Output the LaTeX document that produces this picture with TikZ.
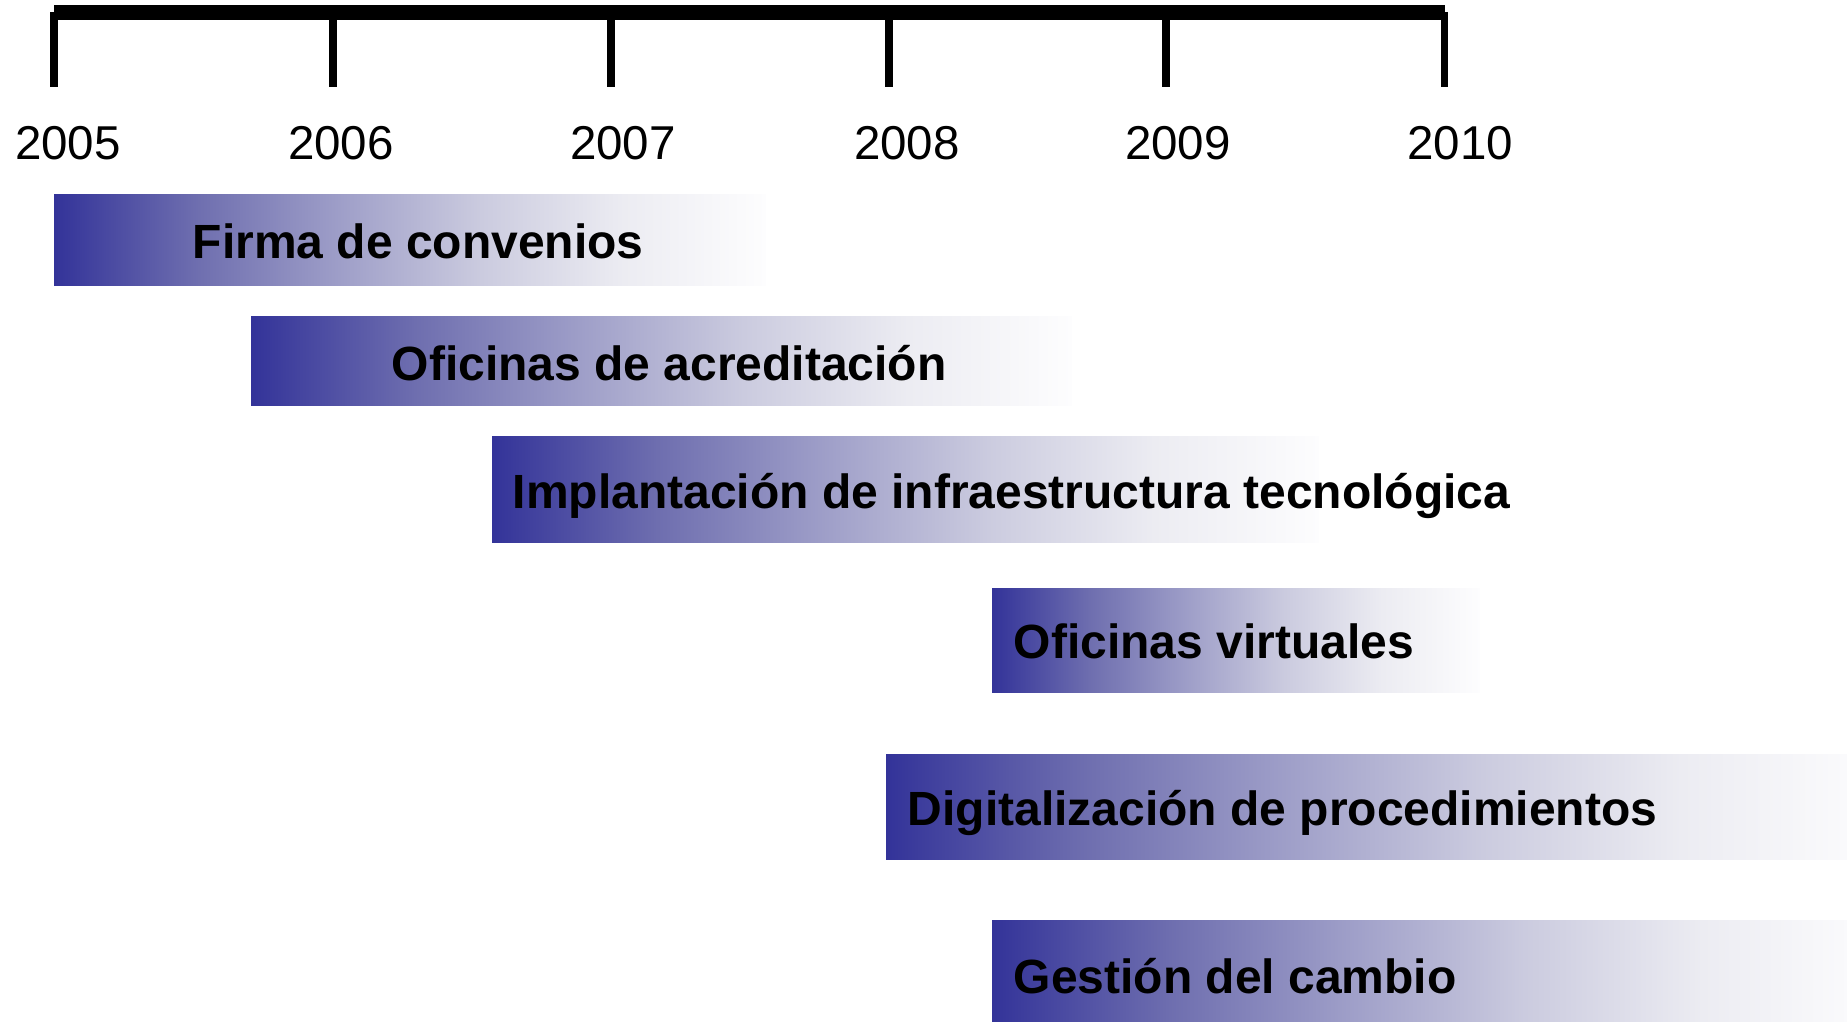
\documentclass[tikz,border=0pt]{standalone}
\usepackage{fontspec}
\setmainfont{Liberation Sans}
\definecolor{barblue}{RGB}{51,51,153}
\definecolor{bfa}{RGB}{110,110,175}
\definecolor{bfb}{RGB}{158,158,200}
\definecolor{bfc}{RGB}{203,203,223}
\definecolor{bfd}{RGB}{236,236,242}
\definecolor{bfe}{RGB}{253,253,254}
\pgfdeclarehorizontalshading{barfade}{100bp}{color(0bp)=(barblue); color(25bp)=(barblue); color(35bp)=(bfa); color(45bp)=(bfb); color(55bp)=(bfc); color(65bp)=(bfd); color(75bp)=(bfe); color(100bp)=(bfe)}
\begin{document}
\begin{tikzpicture}[x=1pt,y=-1pt,
  yearlbl/.style={anchor=base,inner sep=0pt,font=\fontsize{47.5}{57}\selectfont},
  barlbl/.style={anchor=base west,inner sep=0pt,font=\fontsize{48}{58}\selectfont\bfseries},
  barshade/.style={shading=barfade,draw=none},
  tickline/.style={line width=7.5pt,line cap=butt,black},
]
\useasboundingbox (0,0) rectangle (1847,1021);
% axis
\fill[black] (54,5) rectangle (1445,20);
\foreach \x/\n in {54/t5,333/t6,611/t7,889/t8,1166/t9,1444.5/t10}{
  \coordinate (\n a) at (\x,12);
  \coordinate (\n b) at (\x,87);
  \draw[tickline] (\n a) -- (\n b);
}
% year labels
\node[yearlbl] (y2005) at (68,159) {2005};
\node[yearlbl] (y2006) at (341,159) {2006};
\node[yearlbl] (y2007) at (623,159) {2007};
\node[yearlbl] (y2008) at (907,159) {2008};
\node[yearlbl] (y2009) at (1178,159) {2009};
\node[yearlbl] (y2010) at (1460,159) {2010};
% bars
\shade[barshade] (54,194) rectangle (766,285);
\shade[barshade] (251,316) rectangle (1072,405);
\shade[barshade] (492,436) rectangle (1319,542);
\shade[barshade] (992,588) rectangle (1480,692);
\shade[barshade] (886,754) rectangle (1880,859);
\shade[barshade] (992,920) rectangle (1880,1030);
% labels
\node[barlbl] (l1) at (192.5,258) {Firma de convenios};
\node[barlbl] (l2) at (391.5,380) {Oficinas de acreditación};
\node[barlbl] (l3) at (512.5,508) {Implantación de infraestructura tecnológica};
\node[barlbl] (l4) at (1013.5,658) {Oficinas virtuales};
\node[barlbl] (l5) at (907.5,825) {Digitalización de procedimientos};
\node[barlbl] (l6) at (1013.5,993) {Gestión del cambio};
\end{tikzpicture}
\end{document}
